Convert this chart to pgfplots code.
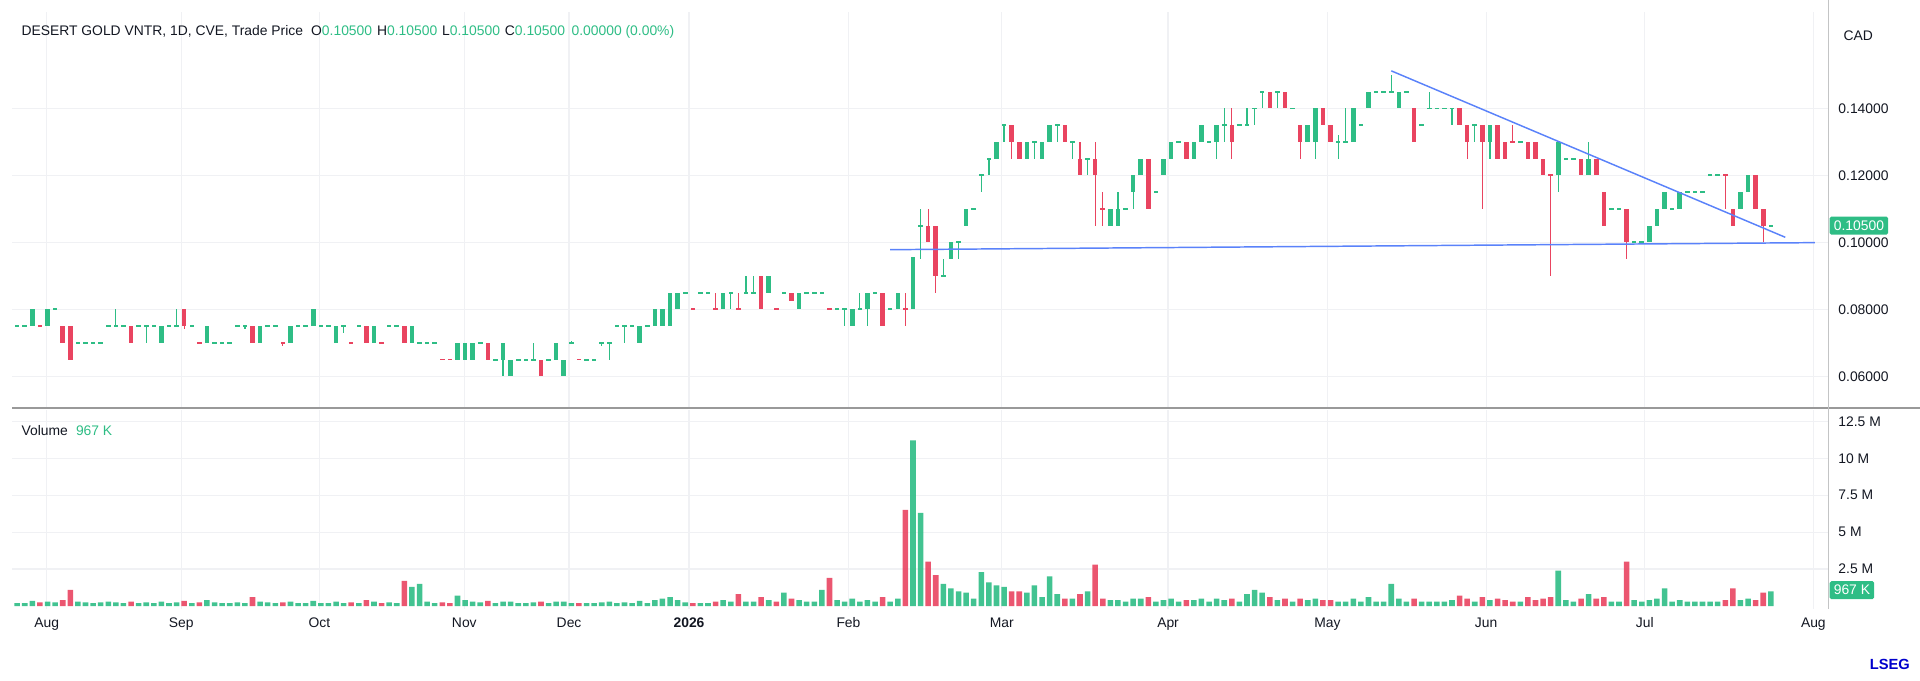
\documentclass[border=0pt]{standalone}
\usepackage{pgfplots}
\usepackage{pgfplotstable}
\pgfplotsset{compat=1.18}
\usepackage{fontspec}
\setmainfont{Liberation Sans}
\definecolor{cg}{RGB}{46,189,133}
\definecolor{cr}{RGB}{233,68,96}
\definecolor{gridc}{RGB}{240,241,244}
\definecolor{txt}{RGB}{19,23,34}
\definecolor{tl}{RGB}{90,130,250}
\pgfplotstableread{
i o h l c v
0 75 75 75 75 .2
1 75 75 75 75 .2
2 75 80 75 80 .35
3 75.1 75.1 75 75 .25
4 75 80 75 80 .3
5 80 80 80 80 .25
6 75 75 70 70 .4
7 75 75 65 65 1.1
8 70 70 70 70 .3
9 70 70 70 70 .25
10 70 70 70 70 .2
11 70 70 70 70 .25
12 75 75 75 75 .3
13 75 80 75 75 .25
14 75 75 75 75 .2
15 75 75 70 70 .3
16 75 75 75 75 .2
17 75 75 70 75 .25
18 75 75 75 75 .2
19 70 75 70 75 .3
20 75 75 75 75 .2
21 75 80 75 75 .25
22 80 80 74 75 .35
23 75 75 75 75 .2
24 70.1 70.1 70 70 .25
25 70 75 70 75 .4
26 70 70 70 70 .25
27 70 70 70 70 .2
28 70 70 70 70 .2
29 75 75 75 75 .25
30 75 75 74 75 .2
31 75 75 70 70 .6
32 70 75 70 75 .3
33 75 75 75 75 .25
34 75 75 75 75 .2
35 70.1 70.1 69 70 .25
36 70 75 70 75 .3
37 75 75 75 75 .2
38 75 75 75 75 .2
39 75 80 75 80 .35
40 75 75 75 75 .2
41 75 75 75 75 .2
42 70 75 70 75 .3
43 75 75 73 75 .2
44 70.1 70.1 70 70 .25
45 75 75 75 75 .2
46 75 75 70 70 .4
47 70 75 70 75 .3
48 70.1 70.1 70 70 .2
49 75 75 75 75 .25
50 75 75 75 75 .2
51 75 75 70 70 1.7
52 70 75 70 75 1.3
53 70 70 70 70 1.5
54 70 70 70 70 .3
55 70 70 70 70 .2
56 65.1 65.1 65 65 .25
57 65.1 65.1 65 65 .2
58 65 70 65 70 .7
59 65 70 65 70 .4
60 65 70 65 70 .3
61 70 70 70 70 .25
62 70 70 65 65 .35
63 65 65 65 65 .2
64 65 70 60 70 .3
65 60 65 60 65 .3
66 65 65 65 65 .2
67 65 65 65 65 .2
68 65 70 65 65 .25
69 65 65 60 60 .3
70 65 65 65 65 .2
71 65 70 65 70 .3
72 60 65 60 65 .3
73 70 70.5 70 70 .2
74 65.1 65.1 65 65 .2
75 65 65 65 65 .2
76 65 65 65 65 .2
77 70 70 69 70 .25
78 70 70 65 70 .3
79 75 75 75 75 .2
80 75 75 70 75 .25
81 75 75 75 75 .2
82 70 75 70 75 .35
83 75 75 75 75 .2
84 75 80 75 80 .4
85 75 80 75 80 .5
86 75 85 75 85 .6
87 80 85 80 85 .4
88 85 85 85 85 .25
89 80.1 80.1 80 80 .2
90 85 85 85 85 .2
91 85 85 85 85 .2
92 80.1 85 80 80 .3
93 80 85 80 85 .4
94 85 85 80 85 .3
95 80.1 85 80 80 .8
96 85 90 85 85 .3
97 85 90 85 85 .3
98 90 90 80 80 .6
99 85 90 85 90 .4
100 80.1 80.1 80 80 .3
101 85 85 85 85 .9
102 85 85 82.5 82.5 .5
103 80 85 80 85 .4
104 85 85 85 85 .3
105 85 85 85 85 .3
106 85 85 85 85 1.1
107 80.1 80.1 80 80 1.9
108 80 80 80 80 .4
109 80 80 75 80 .3
110 75 80 75 80 .5
111 80 85 80 80 .3
112 80 85 75 85 .4
113 85 85 85 85 .3
114 85 85 75 75 .6
115 80 80 80 80 .3
116 80 85 80 85 .5
117 80.1 85 75 80 6.5
118 80 95.6 80 95.6 11.2
119 105 110 95 105 6.3
120 105 110 100 100 3.0
121 105 105 85 90 2.1
122 90 95 90 90 1.5
123 95 100 95 100 1.2
124 100 100 95 100 1.0
125 105 110 105 110 0.9
126 110 110 110 110 .5
127 120 120 115 120 2.3
128 125 125 120 125 1.6
129 125 130 125 130 1.4
130 135 135 130 135 1.3
131 135 135 125 130 1.0
132 130 130 125 125 1.0
133 125 130 125 130 .9
134 130 130 125 130 1.4
135 125 130 125 130 .6
136 130 135 130 135 2.0
137 135 135 130 135 .8
138 135 135 130 130 .5
139 130 130 125 130 .5
140 125 130 120 120 .8
141 125 125 120 125 1.0
142 125 130 105 120 2.8
143 110.1 115 105 110 .5
144 105 110 105 110 .4
145 105 115 105 110 .4
146 110 110 110 110 .3
147 115 120 110 120 .5
148 120 125 120 125 .5
149 125 125 110 110 .6
150 115 115 115 115 .3
151 120 125 120 125 .4
152 125 130 125 130 .5
153 130 130 130 130 .3
154 130 130 125 125 .4
155 125 130 125 130 .4
156 130 135 130 135 .5
157 130 130 130 130 .3
158 130 135 125 135 .5
159 135 140 130 135 .4
160 135 140 125 130 .5
161 135 135 135 135 .3
162 135 140 135 135 .8
163 140 140 135 140 1.1
164 145 145 140 145 .9
165 145 145 140 140 .6
166 145 145 140 145 .4
167 145 145 140 140 .5
168 140 140 140 140 .3
169 135 135 125 130 .5
170 130 135 130 135 .4
171 130 140 125 140 .5
172 140 140 135 135 .4
173 135 135 130 130 .4
174 130 132 125 130 .3
175 130 140 130 130 .3
176 130 140 130 140 .5
177 135 135 135 135 .3
178 140 145 140 145 .6
179 145 145 145 145 .3
180 145 145 145 145 .3
181 145 150 145 145 1.5
182 140 145 140 145 .5
183 145 145 145 145 .3
184 140 140 130 130 .5
185 135 135 135 135 .3
186 140 145 140 140 .3
187 140 140 140 140 .3
188 140 140 140 140 .3
189 140 140 135 140 .4
190 140 140 135 135 .7
191 135 135 125 130 .5
192 135 135 130 135 .3
193 135 135 110 130 .6
194 130 135 125 135 .4
195 135 135 125 125 .5
196 130 130 125 125 .4
197 130.1 135 130 130 .3
198 130 130 130 130 .3
199 130 130 125 125 .6
200 130 130 125 125 .4
201 125 125 120 120 .5
202 120.1 120.1 90 120 .6
203 120 130 115 130 2.4
204 125 125 125 125 .4
205 125 125 125 125 .3
206 125 125 120 120 .5
207 120 130 120 125 .8
208 125 125 120 120 .5
209 115 115 105 105 .6
210 110 110 110 110 .3
211 110 110 110 110 .3
212 110 110 95 100 3.0
213 100 100 100 100 .4
214 100 100 100 100 .3
215 100 105 100 105 .4
216 105 110 105 110 .5
217 110 115 110 115 1.2
218 110 110 110 110 .3
219 110 115 110 115 .4
220 115 115 115 115 .3
221 115 115 115 115 .3
222 115 115 115 115 .3
223 120 120 120 120 .3
224 120 120 120 120 .3
225 120.1 120.1 110 120 .4
226 110 110 105 105 1.2
227 110 115 110 115 .4
228 115 120 115 120 .5
229 120 120 110 110 .4
230 110 110 100 105 .9
231 105 105 105 105 1.0
}\data
\pgfplotsset{
  common/.style={scale only axis, width=1112pt, xmin=-0.65, xmax=238.5,
    xtick={3.9,21.6,39.8,58.9,72.7,88.5,109.5,129.7,151.6,172.6,193.5,214.4,236.6},
    axis line style={draw=none}, tick style={draw=none},
    grid=major, major grid style={gridc, line width=0.75pt},
    yticklabel pos=right, unbounded coords=discard,
    tick label style={font=\fontsize{8.5}{10}\selectfont, text=txt},
    yticklabel style={anchor=west, xshift=3pt},
    /pgf/number format/assume math mode=true},
  gf/.style={x filter/.expression={\thisrow{c}>=\thisrow{o} ? x : nan}},
  rf/.style={x filter/.expression={\thisrow{c}<\thisrow{o} ? x : nan}},
}
\begin{document}
\begin{tikzpicture}
\useasboundingbox (0,0) rectangle (1176pt,417pt);
\begin{axis}[common, at={(7.5pt,167.25pt)}, anchor=south west, height=242.25pt,
  ymin=50.6, ymax=168.7, ytick={60,80,100,120,140},
  yticklabels={0.06000,0.08000,0.10000,0.12000,0.14000}, xticklabels={}]
% wicks
\addplot[draw=none, mark=none, gf, error bars/.cd, y dir=both, y explicit, error mark=none,
  error bar style={line width=0.75pt, cg}]
  table[x=i, y expr=(\thisrow{h}+\thisrow{l})/2, y error expr=(\thisrow{h}-\thisrow{l})/2]{\data};
\addplot[draw=none, mark=none, rf, error bars/.cd, y dir=both, y explicit, error mark=none,
  error bar style={line width=0.75pt, cr}]
  table[x=i, y expr=(\thisrow{h}+\thisrow{l})/2, y error expr=(\thisrow{h}-\thisrow{l})/2]{\data};
% bodies
\addplot[draw=none, mark=none, gf, error bars/.cd, y dir=both, y explicit, error mark=none,
  error bar style={line width=2.8pt, cg}]
  table[x=i, y expr=(\thisrow{o}+\thisrow{c})/2, y error expr={max(abs(\thisrow{c}-\thisrow{o})/2,0.25)}]{\data};
\addplot[draw=none, mark=none, rf, error bars/.cd, y dir=both, y explicit, error mark=none,
  error bar style={line width=2.8pt, cr}]
  table[x=i, y expr=(\thisrow{o}+\thisrow{c})/2, y error expr={max(abs(\thisrow{c}-\thisrow{o})/2,0.25)}]{\data};
% trend lines
\addplot[tl, line width=0.9pt] coordinates {(115,97.8) (236.8,99.9)};
\addplot[tl, line width=0.9pt] coordinates {(181,151.2) (232.9,101.5)};
\end{axis}
\begin{axis}[common, at={(7.5pt,44.25pt)}, anchor=south west, height=121.5pt,
  ymin=-0.17, ymax=13.25, ytick={2.5,5,7.5,10,12.5},
  yticklabels={2.5 M,5 M,7.5 M,10 M,12.5 M},
  xticklabels={Aug,Sep,Oct,Nov,Dec,\textbf{2026},Feb,Mar,Apr,May,Jun,Jul,Aug},
  xticklabel style={yshift=-2pt}]
\addplot[ybar, bar width=3.4pt, draw=none, fill=cg, fill opacity=0.9, gf] table[x=i, y=v]{\data};
\addplot[ybar, bar width=3.4pt, draw=none, fill=cr, fill opacity=0.9, rf] table[x=i, y=v]{\data};
\end{axis}
\draw[gray!80, line width=1.5pt] (7.5pt,167.25pt) -- (1176pt,167.25pt);
\draw[gridc!60!gray, line width=0.75pt] (1119.75pt,44pt) -- (1119.75pt,417pt);
\node[anchor=west, font=\fontsize{8.5}{10}\selectfont, text=txt, inner sep=0] at (13pt,397.5pt)
  {DESERT GOLD VNTR, 1D, CVE, Trade Price\hspace{5pt}O\textcolor{cg}{0.10500}\hspace{3pt}H\textcolor{cg}{0.10500}\hspace{3pt}L\textcolor{cg}{0.10500}\hspace{3pt}C\textcolor{cg}{0.10500}\hspace{4pt}\textcolor{cg}{0.00000 (0.00\%)}};
\node[anchor=west, font=\fontsize{8.5}{10}\selectfont, text=txt, inner sep=0] at (13pt,153.5pt)
  {Volume\hspace{5pt}\textcolor{cg}{967 K}};
\node[anchor=west, font=\fontsize{8.5}{10}\selectfont, text=txt, inner sep=0] at (1129pt,395pt) {CAD};
\node[anchor=west, fill=cg, text=white, font=\fontsize{8.5}{10}\selectfont, inner sep=2.5pt, rounded corners=1pt] at (1120.5pt,278.8pt) {0.10500};
\node[anchor=west, fill=cg, text=white, font=\fontsize{8.5}{10}\selectfont, inner sep=2.5pt, rounded corners=1pt] at (1120.5pt,55.5pt) {967 K};
\node[anchor=east, text=blue!80!black, font=\bfseries\fontsize{9}{10}\selectfont, inner sep=0] at (1170pt,10pt) {LSEG};
\end{tikzpicture}
\end{document}
